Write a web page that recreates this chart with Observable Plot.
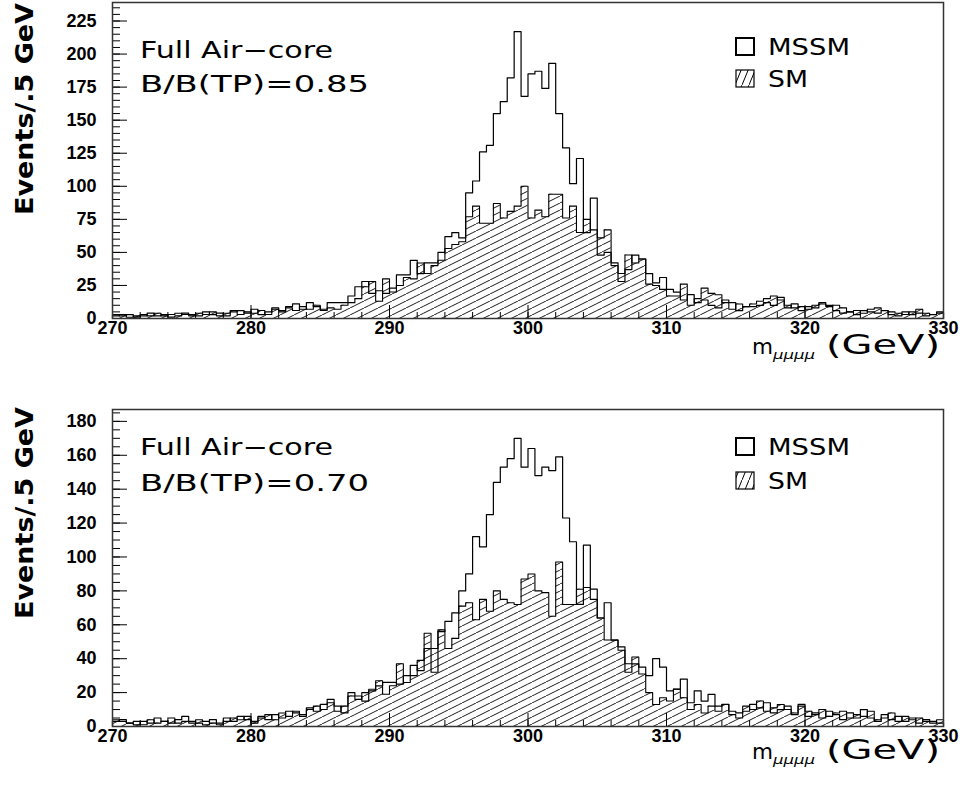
<!DOCTYPE html>
<html>
<head>
<meta charset="utf-8">
<script src="https://cdn.jsdelivr.net/npm/d3@7"></script>
<script src="https://cdn.jsdelivr.net/npm/@observablehq/plot@0.6"></script>
<style>
  body { margin: 0; background: #fff; }
  #chart { width: 968px; height: 788px; background: #fff; }
  #chart svg { display: block; }
</style>
</head>
<body>
<div id="chart"></div>
<script>
// ---- binning (0.5 GeV bins from 270 to 330 GeV) ----
const X_START = 270, X_END = 330, BIN = 0.5;
const xTickLabels = [270, 280, 290, 300, 310, 320, 330];
const yTickLabelsTop = [0, 25, 50, 75, 100, 125, 150, 175, 200, 225];
const yTickLabelsBottom = [0, 20, 40, 60, 80, 100, 120, 140, 160, 180];

// ---- top panel: B/B(TP)=0.85 ----
const smTop = [
  2, 3, 1, 2, 3, 2, 4, 2, 3, 4,
  3, 2, 4, 3, 5, 2, 4, 6, 3, 5,
  4, 6, 3, 7, 5, 8, 6, 9, 7, 10,
  6, 8, 7, 10, 12, 15, 24, 28, 13, 30,
  20, 25, 31, 30, 42, 34, 40, 44, 53, 56,
  58, 77, 85, 72, 72, 87, 76, 81, 85, 100,
  76, 82, 77, 94, 94, 76, 85, 65, 75, 67,
  61, 67, 40, 34, 48, 42, 45, 26, 25, 22,
  17, 17, 26, 10, 15, 23, 19, 18, 12, 7,
  11, 9, 11, 13, 15, 17, 14, 10, 8, 9,
  7, 10, 11, 9, 10, 8, 5, 6, 4, 7,
  8, 6, 5, 4, 3, 5, 7, 4, 3, 5
];
const mssmTop = [
  3, 2, 3, 1, 2, 4, 2, 3, 1, 2,
  4, 3, 2, 5, 3, 4, 2, 5, 6, 4,
  7, 3, 5, 8, 6, 9, 11, 7, 12, 9,
  7, 12, 12, 12, 17, 24, 28, 19, 21, 19,
  23, 33, 33, 44, 34, 42, 42, 50, 62, 65,
  61, 95, 104, 126, 131, 155, 164, 182, 217, 168,
  185, 187, 174, 193, 155, 129, 102, 121, 65, 91,
  48, 50, 42, 28, 37, 48, 45, 34, 27, 31,
  22, 20, 14, 18, 12, 14, 10, 8, 14, 12,
  6, 9, 9, 10, 12, 10, 16, 8, 11, 6,
  9, 8, 12, 10, 6, 4, 5, 3, 6, 5,
  4, 6, 3, 2, 5, 3, 4, 2, 3, 4
];

// ---- bottom panel: B/B(TP)=0.70 ----
const smBottom = [
  4, 3, 2, 3, 1, 4, 2, 3, 5, 2,
  3, 2, 4, 3, 2, 1, 3, 5, 4, 6,
  3, 5, 7, 4, 8, 6, 9, 7, 10, 12,
  10, 14, 9, 12, 18, 16, 20, 22, 27, 19,
  24, 37, 26, 30, 39, 55, 46, 57, 46, 52,
  71, 73, 63, 75, 68, 80, 75, 73, 72, 87,
  90, 80, 79, 65, 97, 72, 72, 81, 82, 75,
  64, 51, 51, 45, 37, 41, 31, 20, 13, 17,
  15, 22, 17, 10, 13, 8, 12, 9, 13, 7,
  5, 12, 10, 15, 9, 11, 13, 10, 8, 12,
  9, 7, 10, 6, 8, 9, 5, 7, 6, 9,
  4, 5, 8, 3, 6, 4, 5, 3, 2, 4
];
const mssmBottom = [
  3, 4, 2, 1, 3, 2, 5, 3, 2, 4,
  6, 3, 2, 1, 4, 2, 5, 3, 6, 4,
  2, 6, 4, 7, 5, 9, 8, 6, 11, 9,
  13, 16, 12, 8, 20, 18, 15, 21, 24, 26,
  26, 25, 30, 36, 33, 46, 32, 56, 62, 67,
  80, 90, 112, 106, 125, 144, 153, 158, 170, 153,
  164, 148, 153, 151, 159, 123, 109, 72, 107, 81,
  64, 73, 51, 47, 32, 37, 35, 30, 40, 35,
  21, 22, 28, 14, 21, 15, 19, 12, 13, 9,
  8, 9, 13, 11, 14, 8, 10, 12, 7, 13,
  6, 8, 5, 9, 7, 4, 8, 5, 10, 5,
  3, 7, 4, 6, 3, 5, 2, 4, 3, 2
];

const panels = [
  { sm: smTop, mssm: mssmTop, yMax: 239, yLabels: yTickLabelsTop, yMinorStep: 5,
    height: 395, marginTop: 2, marginBottom: 77, id: "p1", ratio: "B/B(TP)=0.85",
    line1: 58, line2: 92, leg1: 55, leg2: 87, xTitle: 354, yTitleEnd: 3 },
  { sm: smBottom, mssm: mssmBottom, yMax: 187, yLabels: yTickLabelsBottom, yMinorStep: 5,
    height: 393, marginTop: 14, marginBottom: 62, id: "p2", ratio: "B/B(TP)=0.70",
    line1: 60, line2: 96, leg1: 60, leg2: 94, xTitle: 364, yTitleEnd: 12 }
];

function binRows(arr) {
  return arr.map((v, i) => ({ x1: X_START + i * BIN, x2: X_START + (i + 1) * BIN, y: v }));
}
function stepRows(arr) {
  const pts = [{ x: X_START, y: 0 }];
  arr.forEach((v, i) => pts.push({ x: X_START + i * BIN, y: v }));
  pts.push({ x: X_END, y: arr[arr.length - 1] });
  pts.push({ x: X_END, y: 0 });
  return pts;
}

const xMinor = d3.range(X_START, X_END + 0.01, 2);
const root = document.getElementById("chart");

for (const p of panels) {
  const hatchId = "hatch-" + p.id;
  const legHatchId = "leghatch-" + p.id;
  const yMinor = d3.range(0, p.yMax, p.yMinorStep);
  const svg = Plot.plot({
    width: 968, height: p.height,
    marginLeft: 112, marginRight: 25, marginTop: p.marginTop, marginBottom: p.marginBottom,
    x: { domain: [X_START, X_END] },
    y: { domain: [0, p.yMax] },
    style: { background: "white", color: "black", fontFamily: "'Liberation Sans', Arial, sans-serif", overflow: "visible" },
    marks: [
      Plot.rectY(binRows(p.sm), { x1: "x1", x2: "x2", y: "y", fill: `url(#${hatchId})` }),
      Plot.lineY(stepRows(p.sm), { x: "x", y: "y", curve: "step-after", stroke: "black", strokeWidth: 1.1 }),
      Plot.lineY(stepRows(p.mssm), { x: "x", y: "y", curve: "step-after", stroke: "black", strokeWidth: 1.2 }),
      Plot.axisX({ ticks: xTickLabels, tickSize: 0, tickPadding: 3, fontSize: 18, fontWeight: "bold", label: null }),
      Plot.axisX({ ticks: xTickLabels, tickSize: -13, fill: "none", label: null }),
      Plot.axisX({ ticks: xMinor, tickSize: -6, fill: "none", label: null }),
      Plot.axisY({ ticks: p.yLabels, tickSize: 0, tickPadding: 16, fontSize: 18, fontWeight: "bold", label: null }),
      Plot.axisY({ ticks: p.yLabels, tickSize: -15, fill: "none", label: null }),
      Plot.axisY({ ticks: yMinor, tickSize: -8, fill: "none", label: null }),
      Plot.frame({ stroke: "#333", strokeWidth: 1.5 })
    ]
  });

  const s = d3.select(svg);
  const defs = s.insert("defs", ":first-child");
  const pat = defs.append("pattern").attr("id", hatchId)
    .attr("patternUnits", "userSpaceOnUse").attr("width", 14).attr("height", 7);
  pat.append("path").attr("d", "M-1.4,7.7 L15.4,-0.7").attr("stroke", "black").attr("stroke-width", 0.9).attr("fill", "none");
  const lp = defs.append("pattern").attr("id", legHatchId)
    .attr("patternUnits", "userSpaceOnUse").attr("width", 7).attr("height", 17);
  lp.append("path").attr("d", "M-0.7,18.7 L7.7,-1.7").attr("stroke", "black").attr("stroke-width", 1).attr("fill", "none");

  const g = s.append("g").attr("fill", "black").attr("text-anchor", "start");
  const ann = "'DejaVu Sans', 'Liberation Sans', sans-serif";
  const stretched = (sel, len) => sel.attr("textLength", len).attr("lengthAdjust", "spacingAndGlyphs");

  stretched(g.append("text").attr("x", 140).attr("y", p.line1).attr("font-family", ann).attr("font-size", 23)
    .attr("text-anchor", "start").text("Full Air\u2212core"), 193);
  stretched(g.append("text").attr("x", 140).attr("y", p.line2).attr("font-family", ann).attr("font-size", 23)
    .attr("text-anchor", "start").text(p.ratio), 229);

  // legend
  g.append("rect").attr("x", 736).attr("y", p.leg1 - 17).attr("width", 18).attr("height", 17)
    .attr("fill", "white").attr("stroke", "black").attr("stroke-width", 2);
  stretched(g.append("text").attr("x", 768).attr("y", p.leg1).attr("font-family", ann).attr("font-size", 23)
    .attr("text-anchor", "start").text("MSSM"), 82);
  g.append("rect").attr("x", 736).attr("y", p.leg2 - 17).attr("width", 18).attr("height", 17)
    .attr("fill", `url(#${legHatchId})`).attr("stroke", "black").attr("stroke-width", 1.2);
  stretched(g.append("text").attr("x", 768).attr("y", p.leg2).attr("font-family", ann).attr("font-size", 23)
    .attr("text-anchor", "start").text("SM"), 40);

  // x-axis title: m_{μμμμ} (GeV)
  stretched(g.append("text").attr("x", 752).attr("y", p.xTitle).attr("font-family", ann).attr("font-size", 22)
    .attr("text-anchor", "start").text("m"), 21);
  stretched(g.append("text").attr("x", 773).attr("y", p.xTitle + 5).attr("font-family", ann).attr("font-size", 13)
    .attr("font-style", "italic").attr("text-anchor", "start").text("\u03bc\u03bc\u03bc\u03bc"), 42);
  stretched(g.append("text").attr("x", 826).attr("y", p.xTitle).attr("font-family", ann).attr("font-size", 27)
    .attr("text-anchor", "start").text("(GeV)"), 114);

  // y-axis title
  g.append("text").attr("transform", `translate(33,${p.yTitleEnd}) rotate(-90)`)
    .attr("text-anchor", "end").attr("font-family", ann).attr("font-weight", "bold").attr("font-size", 25)
    .attr("textLength", 212).attr("lengthAdjust", "spacingAndGlyphs").text("Events/.5 GeV");

  root.appendChild(svg);
}
</script>
</body>
</html>
